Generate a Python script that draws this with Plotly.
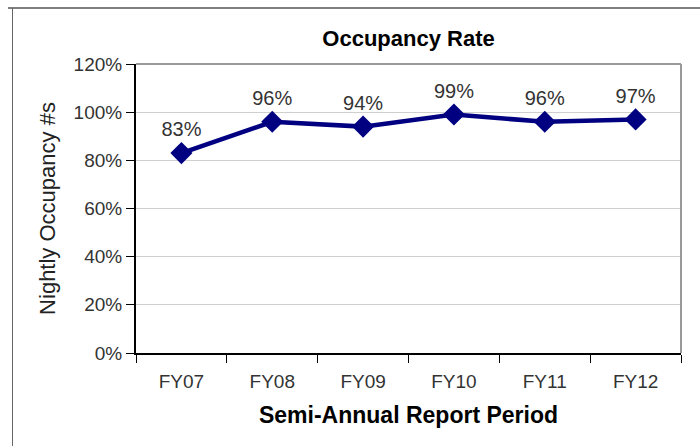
import plotly.graph_objects as go

categories = ["FY07", "FY08", "FY09", "FY10", "FY11", "FY12"]
occupancy = [0.83, 0.96, 0.94, 0.99, 0.96, 0.97]
labels = ["83%", "96%", "94%", "99%", "96%", "97%"]

FONT = "Liberation Sans, Arial, Helvetica, sans-serif"

fig = go.Figure()
fig.add_trace(go.Scatter(
    x=categories, y=occupancy, mode="lines+markers+text",
    line=dict(color="#000080", width=4.5),
    marker=dict(symbol="diamond", size=17, color="#000080"),
    text=labels, textposition="top center",
    textfont=dict(family=FONT, size=20, color="#333333"),
    cliponaxis=False, hoverinfo="skip", showlegend=False,
))

fig.update_layout(
    width=700, height=446,
    margin=dict(l=136, r=19, t=64, b=93, autoexpand=False),
    paper_bgcolor="white", plot_bgcolor="white",
    font=dict(family=FONT, color="#222222"),
    title=dict(text="<b>Occupancy Rate</b>", x=(136 + 681) / 2 / 700, xanchor="center",
               y=1 - 38 / 446, yanchor="middle",
               font=dict(family=FONT, size=22, color="black")),
    xaxis=dict(
        type="category", tickson="boundaries", ticks="outside", ticklen=8,
        tickcolor="black", showline=True, linecolor="black", linewidth=2,
        showgrid=False, tickfont=dict(family=FONT, size=19, color="#333333"),
        ticklabelstandoff=10,
        title=dict(text="<b>Semi-Annual Report Period</b>",
                   font=dict(family=FONT, size=23, color="black"), standoff=16),
        range=[-0.5, 5.5], automargin=False,
    ),
    yaxis=dict(
        range=[0, 1.2], dtick=0.2, tickformat=".0%", ticks="outside", ticklen=8,
        tickcolor="black", showline=True, linecolor="black", linewidth=2,
        showgrid=True, gridcolor="#cfcfcf", gridwidth=1, zeroline=False,
        tickfont=dict(family=FONT, size=19, color="#333333"),
        title=dict(text="Nightly Occupancy #s",
                   font=dict(family=FONT, size=22, color="#222222"), standoff=12),
        automargin=False,
    ),
    shapes=[
        dict(type="line", xref="paper", yref="paper", x0=0, x1=1, y0=1, y1=1,
             line=dict(color="#999999", width=2)),
        dict(type="line", xref="paper", yref="paper", x0=1, x1=1, y0=0, y1=1,
             line=dict(color="#999999", width=2)),
        dict(type="line", xref="paper", yref="paper",
             x0=(8 - 136) / 545, x1=(700 - 136) / 545,
             y0=(353 - 8) / 289, y1=(353 - 8) / 289,
             line=dict(color="#555555", width=1.5)),
        dict(type="line", xref="paper", yref="paper",
             x0=(12.5 - 136) / 545, x1=(12.5 - 136) / 545,
             y0=(353 - 8) / 289, y1=(353 - 446) / 289,
             line=dict(color="#666666", width=1)),
    ],
)

fig.write_html("out.html", config={"displayModeBar": False},
               post_script="document.body.style.margin='0px';document.body.style.overflow='hidden';")
